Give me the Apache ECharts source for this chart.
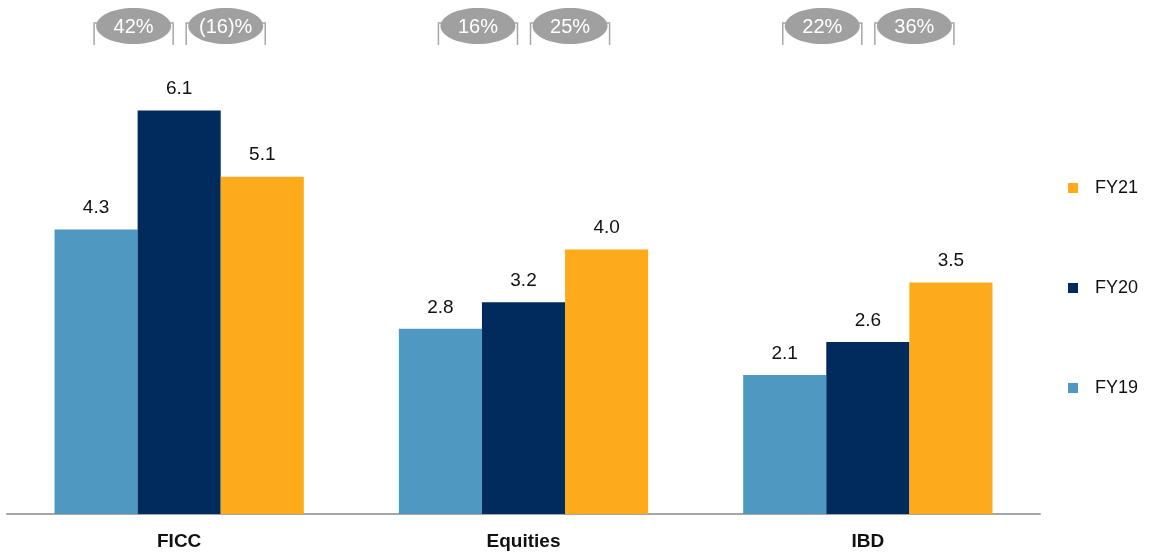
<!DOCTYPE html>
<html>
<head>
<meta charset="utf-8">
<script src="https://cdn.jsdelivr.net/npm/echarts@6/dist/echarts.min.js"></script>
<style>
  html, body { margin: 0; padding: 0; background: #fff; }
  #chart { width: 1152px; height: 553px; }
</style>
</head>
<body>
<div id="chart"></div>
<script>
// Revenue by business line, three fiscal years
const categories = ['FICC', 'Equities', 'IBD'];
const fy19 = [4.3, 2.8, 2.1];
const fy20 = [6.1, 3.2, 2.6];
const fy21 = [5.1, 4.0, 3.5];
// Year-on-year growth callouts per business line: FY19→FY20, FY20→FY21
const growthFirst = ['42%', '16%', '22%'];
const growthSecond = ['(16)%', '25%', '36%'];

const colors = { FY19: '#4f98c1', FY20: '#002b5c', FY21: '#fdaa1b' };
const font = '"Liberation Sans", Arial, sans-serif';

const chart = echarts.init(document.getElementById('chart'), null, { renderer: 'canvas' });

const labelStyle = {
  show: true,
  position: 'top',
  distance: 12,
  color: '#111',
  fontSize: 19,
  fontFamily: font,
  formatter: p => p.value.toFixed(1)
};

function barSeries(name, data) {
  return {
    name: name,
    type: 'bar',
    data: data,
    barGap: '0%',
    barCategoryGap: '27.6%',
    itemStyle: { color: colors[name] },
    label: labelStyle,
    emphasis: { disabled: true }
  };
}

// Bracket with an oval badge over a pair of adjacent bars
function bracket(x1, x2, text) {
  const top = 23, bottom = 45, tick = 6, cx = (x1 + x2) / 2;
  const line = { stroke: '#a6a6a6', lineWidth: 1.5 };
  return [
    { type: 'polyline', shape: { points: [[x1 + tick, top], [x1, top], [x1, bottom]] }, style: Object.assign({ fill: null }, line) },
    { type: 'polyline', shape: { points: [[x2 - tick, top], [x2, top], [x2, bottom]] }, style: Object.assign({ fill: null }, line) },
    { type: 'ellipse', shape: { cx: cx, cy: 26, rx: 37.5, ry: 18 }, style: { fill: '#a0a0a0' } },
    { type: 'text', style: { text: text, x: cx, y: 27, align: 'center', verticalAlign: 'middle', fill: '#fff', fontSize: 20, fontFamily: font } }
  ];
}

chart.setOption({
  animation: false,
  grid: { left: 7, right: 112, top: 51, bottom: 39, containLabel: false },
  legend: {
    orient: 'vertical',
    left: 1063,
    top: 174,
    data: ['FY21', 'FY20', 'FY19'],
    icon: 'rect',
    itemWidth: 10,
    itemHeight: 10,
    itemGap: 82,
    selectedMode: false,
    textStyle: { fontSize: 18, fontFamily: font, color: '#111', padding: [0, 0, 0, 12] }
  },
  xAxis: {
    type: 'category',
    data: categories,
    axisLine: { lineStyle: { color: '#a6a6a6', width: 2 } },
    axisTick: { show: false },
    axisLabel: { margin: 18, fontSize: 19, fontWeight: 'bold', color: '#111', fontFamily: font }
  },
  yAxis: {
    type: 'value',
    min: 0,
    max: 7,
    show: false,
    splitLine: { show: false }
  },
  series: [
    barSeries('FY19', fy19),
    barSeries('FY20', fy20),
    barSeries('FY21', fy21),
    {
      type: 'custom',
      name: 'growth',
      silent: true,
      clip: false,
      data: categories.map((c, i) => [i, 0]),
      encode: { x: 0, y: 1 },
      renderItem: function (params, api) {
        const i = api.value(0);
        const cx = api.coord([i, 0])[0];
        const u = api.size([1, 0])[0] / 344;
        return {
          type: 'group',
          children: bracket(cx - 85 * u, cx - 6 * u, growthFirst[i])
            .concat(bracket(cx + 7 * u, cx + 86 * u, growthSecond[i]))
        };
      }
    }
  ]
});
</script>
</body>
</html>
